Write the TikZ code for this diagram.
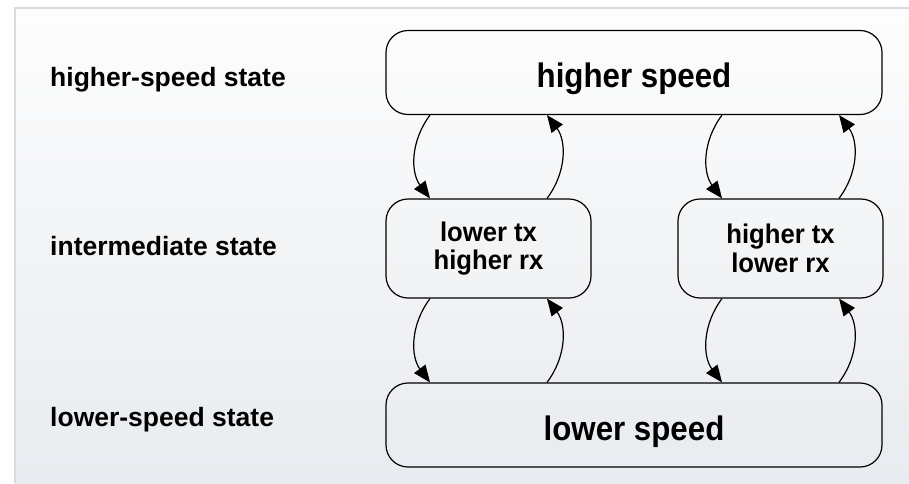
\documentclass[tikz,border=0pt]{standalone}
\usepackage{fontspec}
\setmainfont{Liberation Sans}
\newfontfamily\bigfont[FakeStretch=0.92]{Liberation Sans}
\newfontfamily\midfont[FakeStretch=0.95]{Liberation Sans}
\usetikzlibrary{arrows.meta,calc}
\definecolor{bgtop}{HTML}{FDFDFD}
\definecolor{bgbot}{HTML}{E8EBEF}
\definecolor{edgeline}{HTML}{D3DCE4}
\begin{document}
\begin{tikzpicture}[x=1pt,y=-1pt,
  statebox/.style={draw=black, line width=1.2pt, rounded corners=22pt, inner sep=0pt},
  bigbox/.style={statebox, minimum width=496pt, minimum height=84pt,
    font=\bigfont\bfseries\fontsize{34}{40}\selectfont, text height=30pt, text depth=0pt},
  midbox/.style={statebox, minimum width=205pt, minimum height=99pt, align=center,
    font=\midfont\bfseries\fontsize{27}{28.5}\selectfont},
  rowlabel/.style={anchor=base west, inner sep=0pt, font=\bfseries\fontsize{26.5}{30}\selectfont},
  arr/.style={line width=1.2pt, -{Triangle[length=17pt,width=14pt]}}]
\useasboundingbox (0,0) rectangle (909,483);
\fill[white] (0,0) rectangle (909,483);
\shade[top color=bgtop, bottom color=bgbot] (15,8) rectangle (909,483);
\draw[edgeline, line width=2pt] (15,483) -- (15,8) -- (909,8);

\node[rowlabel] (lh) at (50,86.7) {higher-speed state};
\node[rowlabel] (li) at (50,255) {intermediate state};
\node[rowlabel] (ll) at (50,426) {lower-speed state};

\node[bigbox] (hs) at (634,72.5) {higher speed};
\node[midbox] (ml) at (488.5,248.5) {lower tx\\higher rx};
\node[midbox] (mr) at (780.5,248.5) {higher tx\\lower rx};
\node[bigbox] (ls) at (634,425) {lower speed};

\coordinate (a1) at ([xshift=-58.5pt]ml.north);
\coordinate (a2) at ([xshift=58.5pt]ml.north);
\coordinate (a3) at ([xshift=-58.5pt]mr.north);
\coordinate (a4) at ([xshift=58.5pt]mr.north);
\coordinate (b1) at ([xshift=-58.5pt]ml.south);
\coordinate (b2) at ([xshift=58.5pt]ml.south);
\coordinate (b3) at ([xshift=-58.5pt]mr.south);
\coordinate (b4) at ([xshift=58.5pt]mr.south);

\draw[arr] (hs.south -| a1) to[bend right=37] (a1);
\draw[arr] (a2) to[bend right=37] (hs.south -| a2);
\draw[arr] (hs.south -| a3) to[bend right=37] (a3);
\draw[arr] (a4) to[bend right=37] (hs.south -| a4);
\draw[arr] (b1) to[bend right=37] (ls.north -| b1);
\draw[arr] (ls.north -| b2) to[bend right=37] (b2);
\draw[arr] (b3) to[bend right=37] (ls.north -| b3);
\draw[arr] (ls.north -| b4) to[bend right=37] (b4);
\end{tikzpicture}
\end{document}
